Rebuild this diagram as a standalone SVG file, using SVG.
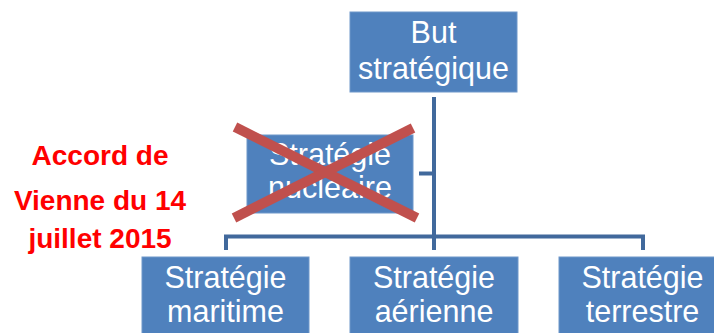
<svg xmlns="http://www.w3.org/2000/svg" width="714" height="333" viewBox="0 0 714 333">
<style>
.box{fill:#4F81BD;stroke:#6F97CA;stroke-width:1}
.lbl{font-family:"Liberation Sans",Arial,sans-serif;font-size:30.5px;fill:#FFFFFF;text-anchor:middle}
.conn{fill:none;stroke:#41699C;stroke-width:4;stroke-linejoin:miter}
.red{font-family:"Liberation Sans",Arial,sans-serif;font-size:28px;font-weight:bold;fill:#FF0000;text-anchor:middle}
.cross{stroke:#C0504D;stroke-width:10;stroke-linecap:butt}
</style>
<rect width="714" height="333" fill="#FFFFFF"/>
<g id="connectors">
<path class="conn" d="M434,97 V250"/>
<path class="conn" d="M226,250 V236.5 H643 V250"/>
<path class="conn" d="M419,173.5 H434"/>
</g>
<g id="but">
<rect class="box" x="350" y="12" width="167" height="80"/>
<text class="lbl" x="433.5" y="43">But</text>
<text class="lbl" x="433.5" y="79">stratégique</text>
</g>
<g id="nucleaire">
<rect class="box" x="247" y="135" width="166" height="78"/>
<text class="lbl" x="330" y="165">Stratégie</text>
<text class="lbl" x="330" y="198">nucléaire</text>
</g>
<g id="croix">
<line class="cross" x1="235" y1="127" x2="417" y2="218"/>
<line class="cross" x1="413" y1="128" x2="234" y2="218"/>
</g>
<g id="maritime">
<rect class="box" x="142" y="257" width="167" height="80"/>
<text class="lbl" x="225.5" y="288">Stratégie</text>
<text class="lbl" x="225.5" y="322">maritime</text>
</g>
<g id="aerienne">
<rect class="box" x="350" y="257" width="168" height="80"/>
<text class="lbl" x="434" y="288">Stratégie</text>
<text class="lbl" x="434" y="322">aérienne</text>
</g>
<g id="terrestre">
<rect class="box" x="559" y="257" width="167" height="80"/>
<text class="lbl" x="642.5" y="288">Stratégie</text>
<text class="lbl" x="642.5" y="322">terrestre</text>
</g>
<g id="accord">
<text class="red" x="100" y="165">Accord de</text>
<text class="red" x="100" y="210">Vienne du 14</text>
<text class="red" x="100" y="248">juillet 2015</text>
</g>
</svg>
